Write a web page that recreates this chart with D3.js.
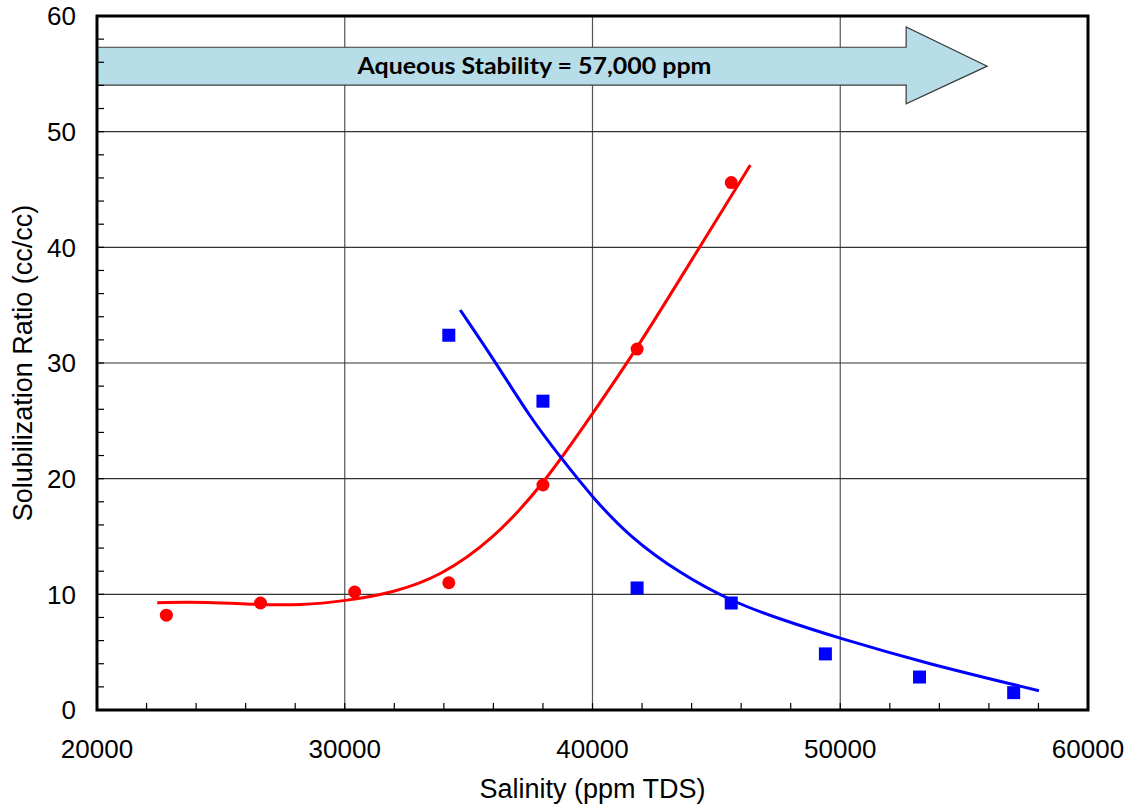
<!DOCTYPE html>
<html>
<head>
<meta charset="utf-8">
<script src="https://cdn.jsdelivr.net/npm/d3@7"></script>
<style>
  html, body { margin: 0; padding: 0; background: #fff; }
  svg { display: block; }
</style>
</head>
<body>
<svg id="chart" width="1133" height="810"></svg>
<script>
// Measured solubilization ratios (cc/cc) versus salinity (ppm TDS)
const salinityOil = [22800, 26600, 30400, 34200, 38000, 41800, 45600];
const ratioOil    = [8.2, 9.25, 10.2, 11.0, 19.45, 31.2, 45.6];

const salinityWater = [34200, 38000, 41800, 45600, 49400, 53200, 57000];
const ratioWater    = [32.4, 26.7, 10.55, 9.25, 4.85, 2.85, 1.5];

// Fitted trend curves (read along the smooth fits)
const fitOilX = [22430, 24420, 26570, 28190, 30000, 31950, 33830, 35970, 38000, 40010, 41790, 44310, 45590, 46370];
const fitOilY = [9.28, 9.34, 9.10, 9.05, 9.42, 10.14, 11.52, 14.70, 19.45, 25.65, 31.21, 39.97, 44.4, 47.12];

const fitWaterX = [34660, 36120, 37460, 38740, 40010, 41490, 43510, 45600, 47500, 49960, 53450, 58020];
const fitWaterY = [34.58, 29.97, 25.36, 21.76, 18.35, 14.98, 11.82, 9.4, 7.9, 6.20, 4.04, 1.67];

// Axis ticks
const xTicks = [20000, 30000, 40000, 50000, 60000];
const yTicks = [0, 10, 20, 30, 40, 50, 60];
const xMinorTicks = d3.range(20000, 60001, 2000);
const yMinorTicks = d3.range(0, 61, 2);

// Stability annotation arrow (salinity, ratio)
const arrowBodyX = [20000, 52660];
const arrowTipX = 55930;
const arrowBodyY = [54.03, 57.3];
const arrowHeadY = [52.4, 59.05];
const arrowLabel = "Aqueous Stability = 57,000 ppm";
const arrowLabelX = 37660;

const svg = d3.select("#chart");
const plotLeft = 97, plotRight = 1088, plotTop = 16, plotBottom = 710;

const x = d3.scaleLinear().domain([20000, 60000]).range([plotLeft, plotRight]);
const y = d3.scaleLinear().domain([0, 60]).range([plotBottom, plotTop]);

const g = svg.append("g");

// Major gridlines
g.append("g").selectAll("line").data(xTicks.slice(1, -1)).join("line")
  .attr("x1", d => x(d)).attr("x2", d => x(d))
  .attr("y1", plotTop).attr("y2", plotBottom)
  .attr("stroke", "#555").attr("stroke-width", 1.2);
g.append("g").selectAll("line").data(yTicks.slice(1, -1)).join("line")
  .attr("x1", plotLeft).attr("x2", plotRight)
  .attr("y1", d => y(d)).attr("y2", d => y(d))
  .attr("stroke", "#333").attr("stroke-width", 1.2);

// Annotation arrow
const mid = (arrowBodyY[0] + arrowBodyY[1]) / 2;
const arrowPts = [
  [arrowBodyX[0], arrowBodyY[1]],
  [arrowBodyX[1], arrowBodyY[1]],
  [arrowBodyX[1], arrowHeadY[1]],
  [arrowTipX, mid],
  [arrowBodyX[1], arrowHeadY[0]],
  [arrowBodyX[1], arrowBodyY[0]],
  [arrowBodyX[0], arrowBodyY[0]]
];
g.append("path")
  .attr("d", d3.line().x(d => x(d[0])).y(d => y(d[1]))(arrowPts) + "Z")
  .attr("fill", "#b7dee8")
  .attr("stroke", "#3a3a3a")
  .attr("stroke-width", 1.2)
  .attr("stroke-linejoin", "miter");
g.append("text")
  .attr("x", x(arrowLabelX))
  .attr("y", y(mid) + 8)
  .attr("text-anchor", "middle")
  .attr("font-family", "Lato, 'Open Sans', sans-serif")
  .attr("font-weight", "bold")
  .attr("font-size", 23)
  .attr("textLength", 354)
  .attr("lengthAdjust", "spacingAndGlyphs")
  .attr("fill", "#000")
  .text(arrowLabel);

// Trend curves
const curveLine = d3.line().x(d => x(d[0])).y(d => y(d[1])).curve(d3.curveBasis);
g.append("path")
  .attr("d", curveLine(d3.zip(fitOilX, fitOilY)))
  .attr("fill", "none").attr("stroke", "#ff0000").attr("stroke-width", 3);
g.append("path")
  .attr("d", curveLine(d3.zip(fitWaterX, fitWaterY)))
  .attr("fill", "none").attr("stroke", "#0000ff").attr("stroke-width", 3);

// Measured points
g.append("g").selectAll("circle").data(d3.zip(salinityOil, ratioOil)).join("circle")
  .attr("cx", d => x(d[0])).attr("cy", d => y(d[1])).attr("r", 6.5)
  .attr("fill", "#ff0000");
const sq = 13;
g.append("g").selectAll("rect").data(d3.zip(salinityWater, ratioWater)).join("rect")
  .attr("x", d => x(d[0]) - sq / 2).attr("y", d => y(d[1]) - sq / 2)
  .attr("width", sq).attr("height", sq)
  .attr("fill", "#0000ff");

// Minor ticks (inside the plot)
g.append("g").selectAll("line").data(xMinorTicks.slice(1, -1)).join("line")
  .attr("x1", d => x(d)).attr("x2", d => x(d))
  .attr("y1", plotBottom).attr("y2", plotBottom - 7)
  .attr("stroke", "#000").attr("stroke-width", 1.2);
g.append("g").selectAll("line").data(yMinorTicks.slice(1, -1)).join("line")
  .attr("x1", plotLeft).attr("x2", plotLeft + 7)
  .attr("y1", d => y(d)).attr("y2", d => y(d))
  .attr("stroke", "#000").attr("stroke-width", 1.2);

// Frame
g.append("rect")
  .attr("x", plotLeft).attr("y", plotTop)
  .attr("width", plotRight - plotLeft).attr("height", plotBottom - plotTop)
  .attr("fill", "none").attr("stroke", "#000").attr("stroke-width", 3);

// Tick labels
const font = "'Liberation Sans', Arial, sans-serif";
g.append("g").selectAll("text").data(xTicks).join("text")
  .attr("x", d => x(d)).attr("y", 758)
  .attr("text-anchor", "middle")
  .attr("font-family", font).attr("font-size", 26).attr("fill", "#000")
  .text(d => d);
g.append("g").selectAll("text").data(yTicks).join("text")
  .attr("x", plotLeft - 21).attr("y", d => y(d) + 9.3)
  .attr("text-anchor", "end")
  .attr("font-family", font).attr("font-size", 26).attr("fill", "#000")
  .text(d => d);

// Axis titles
g.append("text")
  .attr("x", (plotLeft + plotRight) / 2).attr("y", 798)
  .attr("text-anchor", "middle")
  .attr("font-family", font).attr("font-size", 27).attr("fill", "#000")
  .text("Salinity (ppm TDS)");
g.append("text")
  .attr("transform", `translate(32, ${(plotTop + plotBottom) / 2}) rotate(-90)`)
  .attr("text-anchor", "middle")
  .attr("font-family", font).attr("font-size", 27).attr("fill", "#000")
  .text("Solubilization Ratio (cc/cc)");
</script>
</body>
</html>
